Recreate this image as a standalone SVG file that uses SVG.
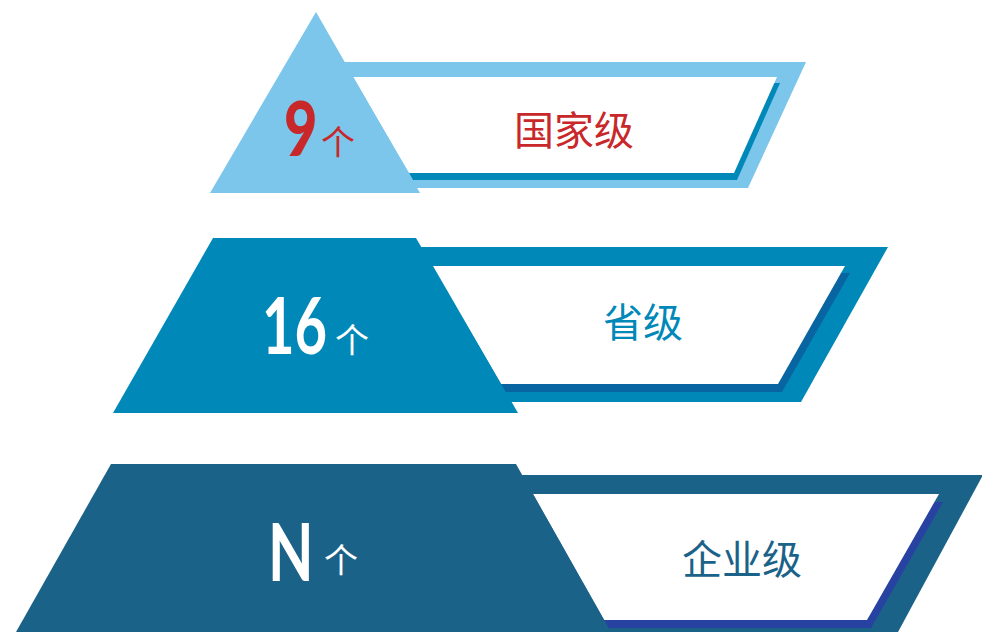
<svg xmlns="http://www.w3.org/2000/svg" width="982" height="632" viewBox="0 0 982 632">
  <style>
    .num { font-family: Lato, "Noto Sans", "Liberation Sans", sans-serif; }
    .cjk { font-family: "Noto Sans CJK SC", "Noto Sans", sans-serif; }
    .lbl { font-size: 40px; text-anchor: middle; dominant-baseline: central; }
    .ge { font-size: 34px; text-anchor: middle; dominant-baseline: central; }
    .white { fill: #FFFFFF; }
  </style>
  <rect width="982" height="632" fill="#FFFFFF"/>
  <g id="connectors"/>
  <g id="tier-national">
    <polygon points="330,62 806,62 748,188 380,188" fill="#7CC5EB"/>
    <polygon points="360,83 780,83 737,180 413,180" fill="#0088B8"/>
    <polygon points="353,77 777,77 734,173 409,173" class="white"/>
    <polygon points="316,12 420,193 210,193" fill="#7CC5EB"/>
    <text class="num" transform="translate(284,156) scale(0.76,1)" font-size="76" font-weight="900" fill="#C8282A">9</text>
    <text class="cjk ge" x="338" y="140" fill="#C8282A">个</text>
    <text class="cjk lbl" x="574" y="128" fill="#C8282A">国家级</text>
  </g>
  <g id="tier-provincial">
    <polygon points="400,247 888,247 801,402 450,402" fill="#0089B8"/>
    <polygon points="440,273 850,273 782,392 505,392" fill="#0865A2"/>
    <polygon points="433,266 845,266 778,384 501,384" class="white"/>
    <polygon points="213,238 416,238 518,413 113,413" fill="#0089B8"/>
    <text class="num" transform="translate(262,354) scale(0.72,1)" font-size="78" font-weight="700" fill="#FFFFFF">16</text>
    <text class="cjk ge" x="352" y="338" fill="#FFFFFF">个</text>
    <text class="cjk lbl" x="643" y="320" fill="#0089B8">省级</text>
  </g>
  <g id="tier-enterprise">
    <polygon points="520,475 983,475 898,632 560,632" fill="#1B6289"/>
    <polygon points="540,502 943,502 871,628 608,628" fill="#2742A0"/>
    <polygon points="533,494 939,494 867,620 604,620" class="white"/>
    <polygon points="111,464 516,464 611,632 16,632" fill="#1B6289"/>
    <text class="num" transform="translate(268,581) scale(0.74,1)" font-size="80" font-weight="700" fill="#FFFFFF">N</text>
    <text class="cjk ge" x="341" y="558" fill="#FFFFFF">个</text>
    <text class="cjk lbl" x="742" y="557" fill="#1B6289">企业级</text>
  </g>
</svg>
